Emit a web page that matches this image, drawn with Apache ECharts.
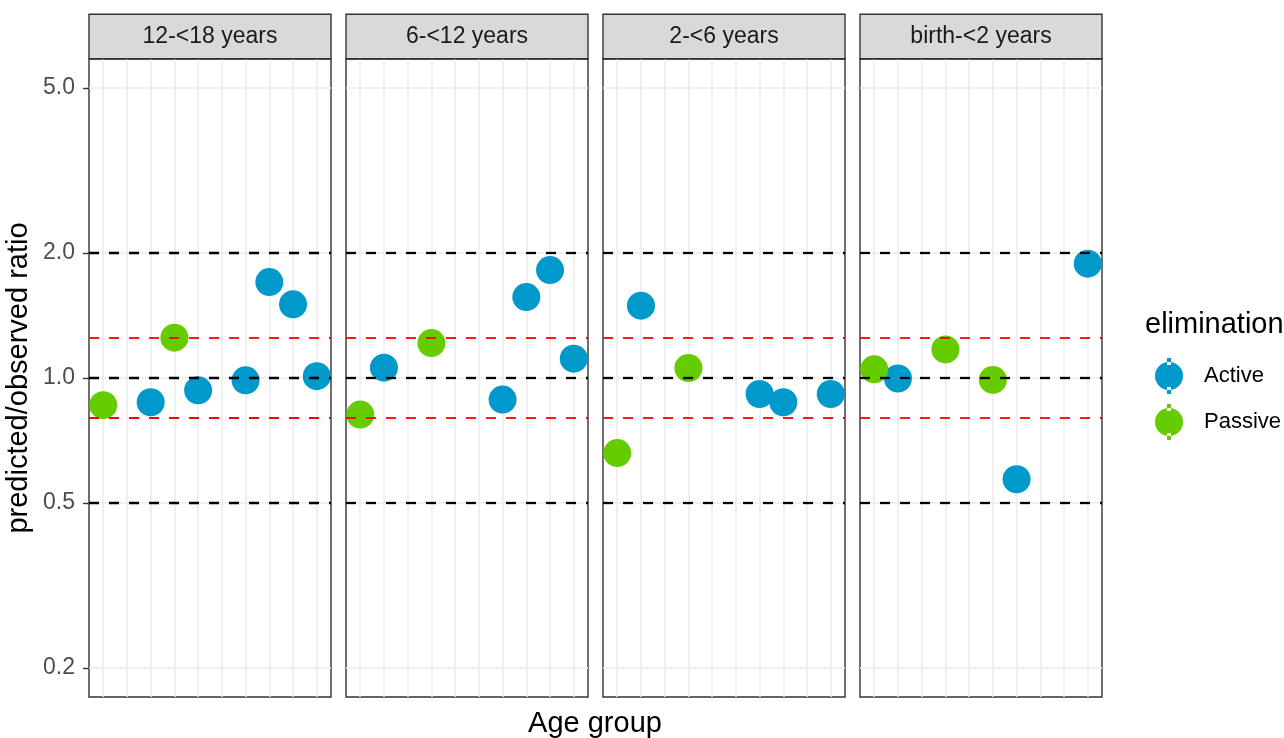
<!DOCTYPE html>
<html>
<head>
<meta charset="utf-8">
<script src="https://cdn.jsdelivr.net/npm/echarts@6/dist/echarts.min.js"></script>
<style>html,body{margin:0;padding:0;background:#fff}#chart{width:1284px;height:738px}</style>
</head>
<body>
<div id="chart"></div>
<script>
// ---- data ----
const facets = ["12-<18 years", "6-<12 years", "2-<6 years", "birth-<2 years"];
const slots = [1, 2, 3, 4, 5, 6, 7, 8, 9, 10];
const yTicks = [0.2, 0.5, 1, 2, 5];
const yTickLabels = ["0.2", "0.5", "1.0", "2.0", "5.0"];
const refBlack = [0.5, 1, 2];
const refRed = [0.8, 1.25];
const eliminations = ["Active", "Passive"];

const activeSlots1 = [3, 5, 7, 8, 9, 10];
const activeRatio1 = [0.874, 0.934, 0.987, 1.703, 1.505, 1.01];
const passiveSlots1 = [1, 4];
const passiveRatio1 = [0.860, 1.251];

const activeSlots2 = [2, 7, 8, 9, 10];
const activeRatio2 = [1.059, 0.887, 1.567, 1.820, 1.113];
const passiveSlots2 = [1, 4];
const passiveRatio2 = [0.816, 1.214];

const activeSlots3 = [2, 7, 8, 10];
const activeRatio3 = [1.494, 0.915, 0.874, 0.915];
const passiveSlots3 = [1, 4];
const passiveRatio3 = [0.659, 1.057];

const activeSlots4 = [2, 7, 10];
const activeRatio4 = [0.997, 0.570, 1.886];
const passiveSlots4 = [1, 4, 6];
const passiveRatio4 = [1.049, 1.172, 0.989];

const activeSlots = [activeSlots1, activeSlots2, activeSlots3, activeSlots4];
const activeRatio = [activeRatio1, activeRatio2, activeRatio3, activeRatio4];
const passiveSlots = [passiveSlots1, passiveSlots2, passiveSlots3, passiveSlots4];
const passiveRatio = [passiveRatio1, passiveRatio2, passiveRatio3, passiveRatio4];

// ---- layout / style ----
const FONT = "Liberation Sans, Arial, sans-serif";
const colors = { Active: "#0099CC", Passive: "#66CC00" };
const panelLeft0 = 89, panelStep = 257, panelW = 242, panelTop = 59, panelH = 638;
const yMin = 0.1702, yMax = 5.874;

const chart = echarts.init(document.getElementById("chart"), null, { renderer: "canvas" });

const grids = [], xAxes = [], yAxes = [], series = [];
facets.forEach((f, i) => {
  grids.push({
    left: panelLeft0 + i * panelStep, top: panelTop, width: panelW, height: panelH,
    show: true, backgroundColor: "#FFFFFF", borderColor: "#333333", borderWidth: 1.4,
    containLabel: false, outerBoundsMode: "none"
  });
  xAxes.push({
    gridIndex: i, type: "value", position: "top", min: 0.4, max: 10.6,
    name: "{s|" + f + "}", nameLocation: "middle", nameGap: 1,
    nameTextStyle: {
      rich: {
        s: {
          fontFamily: FONT, fontSize: 23, color: "#1A1A1A",
          backgroundColor: "#D9D9D9", borderColor: "#333333", borderWidth: 1.4,
          width: panelW - 1.4, height: 43, lineHeight: 43, align: "center", verticalAlign: "middle", padding: 0
        }
      }
    },
    axisLine: { show: false },
    axisTick: { show: false, customValues: slots },
    axisLabel: { show: false },
    splitLine: { show: true, lineStyle: { color: "#EBEBEB", width: 1.5 } }
  });
  yAxes.push({
    gridIndex: i, type: "log", logBase: 10, min: yMin, max: yMax,
    name: i === 0 ? "predicted/observed ratio" : "",
    nameLocation: "middle", nameGap: 56,
    nameTextStyle: { fontFamily: FONT, fontSize: 29, color: "#000000" },
    axisLine: { show: false },
    axisTick: { show: i === 0, customValues: yTicks, length: 6, lineStyle: { color: "#333333", width: 1.4 } },
    axisLabel: {
      show: i === 0, customValues: yTicks, margin: 14,
      fontFamily: FONT, fontSize: 23, color: "#4D4D4D",
      formatter: v => yTickLabels[yTicks.indexOf(+(+v).toFixed(4))] ?? String(v)
    },
    splitLine: { show: true, lineStyle: { color: "#EBEBEB", width: 1.5 } },
    minorSplitLine: { show: false }
  });
  series.push({
    type: "scatter", name: "Active", xAxisIndex: i, yAxisIndex: i,
    symbol: "circle", symbolSize: 28, z: 2,
    itemStyle: { color: colors.Active, opacity: 1 },
    data: activeSlots[i].map((s, k) => [s, activeRatio[i][k]])
  });
  series.push({
    type: "scatter", name: "Passive", xAxisIndex: i, yAxisIndex: i,
    symbol: "circle", symbolSize: 28, z: 2,
    itemStyle: { color: colors.Passive, opacity: 1 },
    data: passiveSlots[i].map((s, k) => [s, passiveRatio[i][k]])
  });
  series.push({
    type: "line", name: "ref", xAxisIndex: i, yAxisIndex: i, z: 5, data: [],
    silent: true,
    markLine: {
      silent: true, symbol: ["none", "none"], animation: false,
      label: { show: false },
      data: refBlack.map(v => ({ yAxis: v, lineStyle: { color: "#000000", width: 2.3, type: [10, 10] } }))
        .concat(refRed.map(v => ({ yAxis: v, lineStyle: { color: "#FF0000", width: 1.8, type: [10, 10] } })))
    }
  });
});

const legendIcon = "path://M12,0h4v7h-4z M12,29h4v7h-4z M0,18a14,14 0 1,0 28,0a14,14 0 1,0 -28,0z";

chart.setOption({
  animation: false,
  backgroundColor: "#FFFFFF",
  textStyle: { fontFamily: FONT },
  title: [
    { text: "Age group", left: 595, top: 709, textAlign: "center", padding: 0,
      textStyle: { fontFamily: FONT, fontSize: 29, fontWeight: "normal", color: "#000000" } },
    { text: "elimination", left: 1145, top: 310, padding: 0,
      textStyle: { fontFamily: FONT, fontSize: 29, fontWeight: "normal", color: "#000000" } }
  ],
  legend: {
    data: eliminations.map(n => ({ name: n, icon: legendIcon })),
    orient: "vertical", left: 1155, top: 358, padding: 0,
    itemWidth: 28, itemHeight: 36, itemGap: 10,
    textStyle: { fontFamily: FONT, fontSize: 22, color: "#000000", padding: [0, 0, 0, 16] },
    selectedMode: false
  },
  grid: grids,
  xAxis: xAxes,
  yAxis: yAxes,
  series: series
});
</script>
</body>
</html>
